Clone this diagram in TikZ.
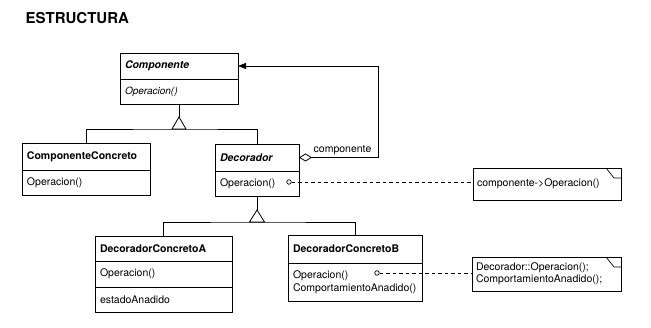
\documentclass[tikz,border=0pt]{standalone}
\usepackage{fontspec}
\setmainfont{TeX Gyre Heros}
\usetikzlibrary{arrows.meta, positioning}

\tikzset{
  clsname/.style={draw, outer sep=0pt, inner xsep=5pt, inner ysep=2pt, align=left, font=\fontsize{10.5}{12}\selectfont\bfseries},
  clsrow/.style={draw, outer sep=0pt, inner xsep=5pt, inner ysep=2pt, align=left},
  notebox/.style={draw, outer sep=0pt, inner xsep=4pt, inner ysep=2pt, align=left},
  opdot/.style={draw, circle, inner sep=0pt, minimum size=4.5pt, line width=0.7pt},
  gendash/.style={dash pattern=on 3.5pt off 3pt, line width=0.7pt}
}

\begin{document}
\begin{tikzpicture}[x=1pt, y=-1pt, line width=0.8pt, font=\fontsize{10.5}{12}\selectfont]
      \useasboundingbox (0,0) rectangle (651,328);

      \node[anchor=base west, font=\fontsize{15}{18}\selectfont\bfseries] (title) at (22,24) {ESTRUCTURA};

      \node[clsname, text width=108pt, minimum height=26pt, font=\fontsize{10.5}{12}\selectfont\bfseries\itshape]
            (comp) at (179,66) {Componente};
      \node[clsrow, text width=108pt, minimum height=25pt, font=\itshape, below=0pt of comp]
            (compop) {Operacion()};

      \node[clsname, text width=118pt, minimum height=27pt] (cc) at (86,156.5) {ComponenteConcreto};
      \node[clsrow, text width=118pt, minimum height=25pt, below=0pt of cc] (ccop) {Operacion()};

      \node[clsname, text width=74pt, minimum height=27pt, font=\fontsize{10.5}{12}\selectfont\bfseries\itshape]
            (dec) at (257,157.5) {Decorador};
      \node[clsrow, text width=74pt, minimum height=25pt, below=0pt of dec] (decop) {Operacion()};
      \node[opdot] (dot1) at (289,182) {};

      \node[clsname, text width=127pt, minimum height=25pt] (dca) at (163.5,248.5) {DecoradorConcretoA};
      \node[clsrow, text width=127pt, minimum height=26pt, below=0pt of dca] (dcaop) {Operacion()};
      \node[clsrow, text width=127pt, minimum height=25pt, below=0pt of dcaop] (dcastate) {estadoAnadido};

      \node[clsname, text width=124pt, minimum height=28pt] (dcb) at (355,249) {DecoradorConcretoB};
      \node[clsrow, text width=124pt, minimum height=38pt, below=0pt of dcb]
            (dcbop) {Operacion()\\[1pt]ComportamientoAnadido()};
      \node[opdot] (dot2) at (377,273) {};

      \node[notebox, text width=140pt, minimum height=32pt] (note1) at (547,184) {componente->Operacion()};
      \node[notebox, text width=141pt, minimum height=34pt] (note2) at (546.5,274)
            {Decorador::Operacion();\\ComportamientoAnadido();};
      \foreach \n in {note1, note2}
        \draw[line width=0.7pt] ([xshift=-15pt]\n.north east) -- ++(8pt,-10pt) -- ([yshift=-10pt]\n.north east);

      \draw (compop.south) -- ++(0,13) coordinate (gen1);
      \draw (gen1) -- ++(-7,12) -- ++(14,0) -- cycle;
      \draw (cc.north) |- ([yshift=-12pt]gen1) -| (dec.north);

      \draw (decop.south) -- ++(0,14) coordinate (gen2);
      \draw (gen2) -- ++(-7.5,12) -- ++(15,0) -- cycle;
      \draw (dca.north) |- ([yshift=-12pt]gen2) -| (dcb.north);

      \draw[{Diamond[open, length=13pt, width=8pt]}-{Triangle[length=8pt, width=6pt]}]
            (dec.east) -- node[above, xshift=4pt, inner sep=2pt]{componente} ++(79,0) |- (comp.east);

      \draw[gendash] (dot1) -- (dot1 -| note1.west);
      \draw[gendash] (dot2) -- (dot2 -| note2.west);
    \end{tikzpicture}
\end{document}
